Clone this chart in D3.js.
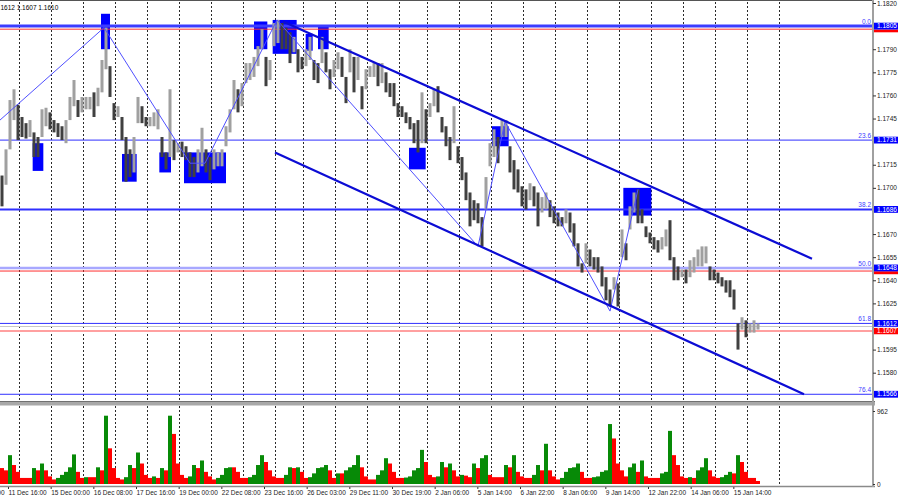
<!DOCTYPE html>
<html><head><meta charset="utf-8">
<script src="https://cdn.jsdelivr.net/npm/d3@7"></script>
<style>body{margin:0;background:#fff;}svg{display:block;font-family:"Liberation Sans",Arial,sans-serif;}</style>
</head><body><svg id="c" width="900" height="500"></svg>
<script>
// ---- data (each drawn bar = 3 hourly bars) ----
const barHigh = [
1.1708,1.1725,1.1757,1.1764,1.1754,1.1746,1.1742,1.1744,1.1736,1.1733,
1.1751,1.1752,1.1749,1.1744,1.1742,1.1740,1.1744,1.1759,1.1770,1.1757,
1.1759,1.1759,1.1759,1.1762,1.1765,1.1783,1.1804,1.1779,1.1755,1.1753,
1.1746,1.1733,1.1725,1.1733,1.1759,1.1753,1.1746,1.1746,1.1749,1.1751,
1.1733,1.1723,1.1764,1.1731,1.1729,1.1730,1.1727,
1.1723,1.1720,1.1725,1.1739,1.1725,1.1720,1.1725,1.1723,1.1725,1.1740,
1.1751,1.1770,1.1764,1.1768,1.1781,1.1781,1.1785,1.1792,1.1803,1.1785,
1.1783,1.1807,1.1809,1.1807,1.1804,1.1801,1.1798,1.1790,1.1785,1.1790,
1.1798,1.1783,1.1781,1.1798,1.1788,1.1777,1.1783,1.1788,1.1785,1.1772,
1.1790,1.1785,1.1785,1.1766,1.1777,1.1779,1.1781,1.1781,
1.1781,1.1775,1.1768,1.1768,1.1755,1.1753,1.1749,1.1746,1.1742,1.1744,
1.1762,1.1751,1.1755,1.1764,1.1766,1.1746,1.1740,1.1733,1.1753,1.1727,
1.1720,1.1710,1.1697,1.1692,1.1690,1.1681,1.1707,1.1729,1.1738,1.1733,
1.1744,1.1744,1.1727,1.1718,1.1712,1.1701,1.1699,1.1703,1.1701,1.1697,
1.1694,1.1697,1.1692,1.1688,1.1684,1.1681,1.1686,
1.1684,1.1677,1.1664,1.1651,1.1664,1.1660,1.1655,1.1655,1.1649,1.1642,
1.1634,1.1642,1.1638,1.1673,1.1664,1.1688,1.1697,1.1699,1.1686,1.1675,
1.1671,1.1668,1.1666,1.1668,1.1673,1.1679,1.1655,1.1649,1.1647,1.1647,
1.1653,1.1655,1.1660,1.1662,1.1662,1.1649,1.1647,1.1645,1.1642,1.1640,
1.1640,1.1634,1.1612,1.1616,1.1614,1.1612,1.1614,1.1612];
const barLow = [
1.1688,1.1702,1.1725,1.1744,1.1731,1.1733,1.1732,1.1733,1.1720,1.1720,
1.1733,1.1740,1.1738,1.1736,1.1733,1.1731,1.1729,1.1744,1.1753,1.1746,
1.1749,1.1751,1.1751,1.1746,1.1753,1.1762,1.1777,1.1759,1.1744,1.1746,
1.1731,1.1704,1.1707,1.1710,1.1742,1.1742,1.1740,1.1740,1.1740,1.1738,
1.1720,1.1712,1.1720,1.1718,1.1723,1.1720,1.1718,
1.1707,1.1707,1.1710,1.1714,1.1710,1.1705,1.1712,1.1714,1.1714,1.1727,
1.1736,1.1751,1.1749,1.1753,1.1768,1.1770,1.1772,1.1779,1.1790,1.1766,
1.1770,1.1792,1.1794,1.1790,1.1790,1.1781,1.1788,1.1775,1.1777,1.1779,
1.1783,1.1770,1.1768,1.1781,1.1775,1.1764,1.1772,1.1777,1.1772,1.1755,
1.1775,1.1762,1.1770,1.1751,1.1764,1.1772,1.1772,1.1766,
1.1768,1.1762,1.1759,1.1753,1.1746,1.1746,1.1742,1.1738,1.1729,1.1723,
1.1729,1.1729,1.1746,1.1753,1.1749,1.1736,1.1727,1.1718,1.1729,1.1716,
1.1705,1.1692,1.1675,1.1679,1.1677,1.1662,1.1686,1.1714,1.1720,1.1716,
1.1733,1.1733,1.1710,1.1699,1.1697,1.1688,1.1686,1.1692,1.1688,1.1675,
1.1684,1.1686,1.1681,1.1677,1.1675,1.1675,1.1677,
1.1671,1.1662,1.1649,1.1645,1.1651,1.1649,1.1647,1.1645,1.1636,1.1627,
1.1623,1.1634,1.1623,1.1655,1.1653,1.1673,1.1684,1.1677,1.1677,1.1668,
1.1664,1.1660,1.1658,1.1660,1.1662,1.1653,1.1640,1.1640,1.1642,1.1638,
1.1642,1.1645,1.1649,1.1649,1.1651,1.1640,1.1640,1.1638,1.1636,1.1632,
1.1629,1.1621,1.1595,1.1608,1.1603,1.1606,1.1606,1.1608];
const volumes = [
210,180,380,250,160,80,80,80,210,180,
270,180,100,60,80,120,160,220,390,160,
80,90,90,90,220,180,900,470,210,80,
60,90,250,210,415,270,120,80,100,80,
210,180,900,660,270,120,80,100,250,210,
310,160,100,60,80,120,210,220,220,160,
80,80,90,120,250,380,290,180,100,80,
80,120,220,210,220,160,80,90,140,210,
220,250,180,80,140,140,180,220,250,380,
220,100,60,60,120,180,340,270,160,80,
80,85,100,180,210,450,290,120,90,100,
290,220,270,180,100,120,110,90,270,210,
340,380,120,90,90,90,250,220,380,160,
100,80,80,120,250,180,530,180,100,60,
80,160,210,220,270,160,80,80,90,100,
160,180,790,600,270,180,100,220,270,160,
310,100,80,80,80,140,160,700,380,250,
100,80,90,80,180,220,340,180,100,80,
90,120,160,140,380,290,160,80,80,40];
const hoursPerBar = 3;
const volumeMax = 962;

const priceTicks = [1.1820,1.1790,1.1775,1.1760,1.1745,1.1715,1.1700,1.1670,1.1655,1.1640,1.1625,1.1595,1.1580];
const fibLevels = [1.1805,1.1731,1.1686,1.1648,1.1612,1.1566];
const fibNames = ["0.0","23.6","38.2","50.0","61.8","76.4"];
const redLevels = [1.1803,1.1646,1.1607];
const askLevel = 1.1610;
const headerText = "1.1612 1.1607 1.1610";

const timeLabels = ["10 Dec 08:00","11 Dec 16:00","15 Dec 00:00","16 Dec 08:00","17 Dec 16:00","19 Dec 00:00","22 Dec 08:00","23 Dec 16:00","26 Dec 03:00","29 Dec 11:00","30 Dec 19:00","2 Jan 06:00","5 Jan 14:00","6 Jan 22:00","8 Jan 06:00","9 Jan 14:00","12 Jan 22:00","14 Jan 06:00","15 Jan 14:00"];
const timeLabelHours = [-27.5,4.5,36.5,68.5,100.5,132.5,164.5,196.5,228.5,260.5,292.5,324.5,356.5,388.5,420.5,452.5,484.5,516.5,548.5];
const daySeparatorHours = [12.75,36.75,60.75,84.75,108.75,132.75,156.75,180.75,204.75,225.75,249.75,273.75,297.75,318.75,342.75,366.75,390.75,414.75,438.75,462.75,486.75,510.75,534.75,558.75,582.75];

const zigzagHours = [-1.5,76.5,141,152.25,206.25,357,377.25,456,477];
const zigzagPrices = [1.1744,1.1804,1.1716,1.1716,1.1809,1.1662,1.1743,1.1620,1.1699];
const channelUpperHours = [210.75,607.5];
const channelUpperPrices = [1.1808,1.1654];
const channelLowerHours = [204.75,601.5];
const channelLowerPrices = [1.1723,1.1566];

const boxStartHours = [23,74.25,90,118,136.5,189,203,227.75,237,305.25,367.5,466];
const boxEndHours = [31,81,101,126.75,168,199,221,233,245,317.75,380,487];
const boxTopPrices = [1.1729,1.1813,1.1722,1.1723,1.1723,1.1808,1.1809,1.1800,1.1805,1.1726,1.1740,1.1700];
const boxBottomPrices = [1.1711,1.1790,1.1704,1.1710,1.1703,1.1790,1.1787,1.1789,1.1790,1.1712,1.1727,1.1682];

// ---- drawing ----
const svg = d3.select("#c");
const axisX = 873;
const x = d3.scaleLinear().domain([0,570]).range([2,762]);
const y = d3.scaleLinear().domain([1.1820,1.1580]).range([3,372.7]);
const vy = d3.scaleLinear().domain([0,volumeMax]).range([484,411]);

svg.append("rect").attr("width",900).attr("height",500).attr("fill","#fff");
const defs = svg.append("defs");
defs.append("clipPath").attr("id","mainClip").append("rect").attr("x",0).attr("y",0).attr("width",axisX).attr("height",401);
defs.append("clipPath").attr("id","volClip").append("rect").attr("x",0).attr("y",406).attr("width",axisX).attr("height",80);

// day separators
svg.append("g").selectAll("line").data(daySeparatorHours).join("line")
  .attr("x1",d=>Math.round(x(d))+0.5).attr("x2",d=>Math.round(x(d))+0.5)
  .attr("y1",2).attr("y2",486)
  .attr("stroke","#2a2a2a").attr("stroke-width",1).attr("stroke-dasharray","2,2");

const main = svg.append("g").attr("clip-path","url(#mainClip)");

// rectangles
main.append("g").selectAll("rect").data(boxStartHours).join("rect")
  .attr("x",(d,i)=>x(d)).attr("width",(d,i)=>x(boxEndHours[i])-x(d))
  .attr("y",(d,i)=>y(boxTopPrices[i])).attr("height",(d,i)=>y(boxBottomPrices[i])-y(boxTopPrices[i]))
  .attr("fill","#0000ff");

// horizontal levels
const fibStroke = ["#3c3cff","#3030ff","#3030ff","#a8a8ff","#3030ff","#3030ff"];
const fibWidth = [3,1,2,2.5,1,1];
main.append("g").selectAll("line").data(fibLevels).join("line")
  .attr("x1",0).attr("x2",axisX).attr("y1",d=>y(d)).attr("y2",d=>y(d))
  .attr("stroke",(d,i)=>fibStroke[i]).attr("stroke-width",(d,i)=>fibWidth[i]);
const redStroke = ["#ff3030","#ff3030","#ffa0a0"];
const redWidth = [1,1,2];
main.append("line").attr("x1",0).attr("x2",axisX).attr("y1",y(askLevel)).attr("y2",y(askLevel))
  .attr("stroke","#c8c8c8").attr("stroke-width",1);
main.append("g").selectAll("line").data(redLevels).join("line")
  .attr("x1",0).attr("x2",axisX).attr("y1",d=>y(d)).attr("y2",d=>y(d))
  .attr("stroke",(d,i)=>redStroke[i]).attr("stroke-width",(d,i)=>redWidth[i]);

// price bars
const mid = barHigh.map((h,i)=>(h+barLow[i])/2);
main.append("g").selectAll("rect").data(barHigh).join("rect")
  .attr("x",(d,i)=>x(i*hoursPerBar)-1.5).attr("width",3)
  .attr("y",d=>y(d)).attr("height",(d,i)=>Math.max(1,y(barLow[i])-y(d)))
  .attr("fill",(d,i)=> i>0 && mid[i]>=mid[i-1] ? "#a0a0a0" : "#404040");

// zigzag
const zz = zigzagHours.map((h,i)=>[h,zigzagPrices[i]]);
main.append("path").datum(zz)
  .attr("d",d3.line().x(d=>x(d[0])).y(d=>y(d[1])))
  .attr("fill","none").attr("stroke","#5050ff").attr("stroke-width",1);

// channel
[[channelUpperHours,channelUpperPrices],[channelLowerHours,channelLowerPrices]].forEach(([hs,ps])=>{
  main.append("path").datum(hs.map((h,i)=>[h,ps[i]]))
    .attr("d",d3.line().x(d=>x(d[0])).y(d=>y(d[1])))
    .attr("fill","none").attr("stroke","#0c0cd4").attr("stroke-width",2.2);
});

// fib level names
main.append("g").selectAll("text").data(fibLevels).join("text")
  .attr("x",871).attr("y",d=>y(d)-2).attr("text-anchor","end")
  .attr("font-size",6.5).attr("fill","#3c3cff").text((d,i)=>fibNames[i]);

// header
svg.append("text").attr("x",-5).attr("y",9.5).attr("font-size",6.5).attr("fill","#000").text(headerText);

// volume panel
const vol = svg.append("g").attr("clip-path","url(#volClip)");
vol.selectAll("rect").data(volumes).join("rect")
  .attr("x",(d,i)=>x(i*hoursPerBar)-2).attr("width",4)
  .attr("y",d=>vy(d)).attr("height",d=>vy(0)-vy(d))
  .attr("fill",(d,i)=> i>0 && d>volumes[i-1] ? "#078a07" : "#ff0000");

// frames
svg.append("line").attr("x1",0).attr("x2",axisX).attr("y1",0.5).attr("y2",0.5).attr("stroke","#555");
svg.append("rect").attr("x",0).attr("y",402).attr("width",axisX+2).attr("height",3.5).attr("fill","#a8a8a8");
svg.append("line").attr("x1",0).attr("x2",axisX+2).attr("y1",401.5).attr("y2",401.5).attr("stroke","#707070");
svg.append("line").attr("x1",0).attr("x2",axisX+2).attr("y1",486.5).attr("y2",486.5).attr("stroke","#8a8a8a").attr("stroke-width",1.5);
svg.append("line").attr("x1",axisX).attr("x2",axisX).attr("y1",0).attr("y2",487).attr("stroke","#a0a0a0").attr("stroke-width",2);

// price axis
const gy = svg.append("g").attr("transform",`translate(${axisX},0)`)
  .call(d3.axisRight(y).tickValues(priceTicks).tickFormat(d3.format(".4f")).tickSize(3).tickPadding(1));
gy.select(".domain").remove();
gy.attr("font-size",6.5).attr("font-family","Liberation Sans, Arial, sans-serif");
gy.selectAll("line").attr("stroke","#333");
gy.selectAll("text").attr("fill","#222");

// value boxes on axis (red ones sit partly behind the blue ones)
const boxG = svg.append("g");
const fmt = d3.format(".4f");
function boxTop(p){ return y(p)-3.4; }
redLevels.forEach((p,i)=>{
  const cover = fibLevels.filter(f=>Math.abs(y(f)-y(p))<6.8 && y(f)<y(p));
  const visTop = cover.length ? boxTop(cover[0])+6.8 : boxTop(p);
  const cid = "redclip"+i;
  defs.append("clipPath").attr("id",cid).append("rect")
    .attr("x",axisX).attr("y",visTop).attr("width",27).attr("height",boxTop(p)+6.8-visTop);
  const g = boxG.append("g").attr("clip-path",`url(#${cid})`);
  g.append("rect").attr("x",axisX+1).attr("y",boxTop(p)).attr("width",24).attr("height",6.8).attr("fill","#ff0000");
  if(!cover.length){
    g.append("text").attr("x",axisX+4).attr("y",y(p)).attr("dy","0.34em")
      .attr("font-size",6.5).attr("fill","#fff").text(fmt(p));
  }
});
fibLevels.forEach(p=>{
  boxG.append("rect").attr("x",axisX+1).attr("y",boxTop(p)).attr("width",24).attr("height",6.8).attr("fill","#0000ff");
  boxG.append("text").attr("x",axisX+4).attr("y",y(p)).attr("dy","0.34em")
    .attr("font-size",6.5).attr("fill","#fff").text(fmt(p));
});

// volume axis
const gv = svg.append("g").attr("transform",`translate(${axisX},0)`)
  .call(d3.axisRight(vy).tickValues([volumeMax,0]).tickFormat(d3.format("d")).tickSize(2).tickPadding(2));
gv.select(".domain").remove();
gv.attr("font-size",6.5).attr("font-family","Liberation Sans, Arial, sans-serif");
gv.selectAll("line").attr("stroke","#333");
gv.selectAll("text").attr("fill","#222");

// time axis
const gx = svg.append("g").attr("transform","translate(0,487)")
  .call(d3.axisBottom(x).tickValues(timeLabelHours).tickFormat((d,i)=>timeLabels[i]).tickSize(2).tickPadding(1));
gx.select(".domain").remove();
gx.attr("font-size",6.5).attr("font-family","Liberation Sans, Arial, sans-serif");
gx.selectAll("line").attr("stroke","#333");
gx.selectAll("text").attr("text-anchor","start").attr("x",0).attr("fill","#222");
</script></body></html>
